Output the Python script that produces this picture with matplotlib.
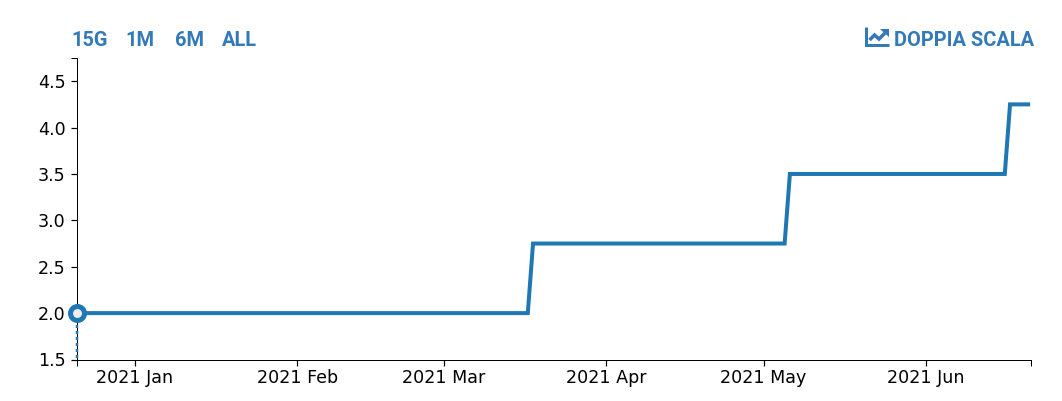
import matplotlib
matplotlib.use("Agg")
import matplotlib.pyplot as plt
import matplotlib.dates as mdates
from matplotlib.transforms import Affine2D
from matplotlib.lines import Line2D
from matplotlib.patches import Polygon
from matplotlib.ticker import FixedLocator, NullFormatter

dates = ["2020-12-21", "2021-03-17", "2021-03-18", "2021-05-05", "2021-05-06",
         "2021-06-16", "2021-06-17", "2021-06-20T20:00"]
values = [2.0, 2.0, 2.75, 2.75, 3.5, 3.5, 4.25, 4.25]
y_ticks = [1.5, 2.0, 2.5, 3.0, 3.5, 4.0, 4.5]
x_ticks = ["2021-01-01", "2021-02-01", "2021-03-01", "2021-04-01", "2021-05-01", "2021-06-01"]
x_labels = ["2021 Jan", "2021 Feb", "2021 Mar", "2021 Apr", "2021 May", "2021 Jun"]
range_buttons = ["15G", "1M", "6M", "ALL"]
scale_label = "DOPPIA SCALA"

W, H = 1062, 401
BLUE = "#1f77b4"
TEXT_BLUE = "#337ab7"
plt.rcParams["font.family"] = ["DejaVu Sans"]

px = lambda p: p * 0.72
to_num = mdates.datestr2num

fig = plt.figure(figsize=(W / 100, H / 100), dpi=100, facecolor="white")
L, R, T, B = 77.0, 1031.0, 58.0, 359.5
ax = fig.add_axes([L / W, 1 - B / H, (R - L) / W, (B - T) / H])

xs = [to_num(d) for d in dates]
ax.plot(xs, values, color=BLUE, lw=px(4), solid_joinstyle="miter", solid_capstyle="butt", zorder=3)
ax.plot([xs[0], xs[0]], [values[0], 1.5], color=BLUE, lw=px(2.5), ls=(0, (1.2, 1.2)),
        zorder=4, clip_on=False)
ax.plot([xs[0]], [values[0]], "o", ms=px(14), mfc="#eeeeee", mec=BLUE, mew=px(5),
        zorder=5, clip_on=False)

ax.set_xlim(to_num("2020-12-21"), to_num("2021-06-21"))
ax.set_ylim(1.5, 4.75)
for s in ("top", "right"):
    ax.spines[s].set_visible(False)
for s in ("left", "bottom"):
    ax.spines[s].set_linewidth(px(1))

ax.set_xticks([to_num(d) for d in x_ticks])
ax.set_xticklabels(x_labels)
ax.set_yticks(y_ticks)
ax.tick_params(axis="both", which="major", length=px(6), width=px(1.2), labelsize=px(17.5),
               color="black")
ax.tick_params(axis="x", which="major", pad=px(3.5))
ax.tick_params(axis="y", which="major", pad=px(5.5))
for lab in ax.get_xticklabels():
    lab.set_x(lab.get_position()[0])
ax.xaxis.set_minor_locator(FixedLocator(list(ax.get_xlim())))
ax.yaxis.set_minor_locator(FixedLocator([4.75]))
ax.xaxis.set_minor_formatter(NullFormatter())
ax.yaxis.set_minor_formatter(NullFormatter())
ax.tick_params(axis="both", which="minor", length=px(6), width=px(1), color="black")

pix = Affine2D().scale(1, -1).translate(0, H)
font = ["Roboto"]
for x, t in zip([71, 125, 175, 222], range_buttons):
    fig.text(x, 46, t, transform=pix, color=TEXT_BLUE, family=font, weight="bold",
             fontsize=px(20), ha="left", va="baseline")
fig.text(1034, 46, scale_label, transform=pix, color=TEXT_BLUE, family=font, weight="bold",
         fontsize=px(20), ha="right", va="baseline")

fig.add_artist(Line2D([865.5, 865.5, 889], [27, 44.5, 44.5], transform=pix, color=TEXT_BLUE,
                      lw=px(3), solid_joinstyle="miter", solid_capstyle="butt"))
fig.add_artist(Line2D([869.5, 874.5, 879, 885], [40, 35, 39, 33], transform=pix, color=TEXT_BLUE,
                      lw=px(3.5), solid_joinstyle="miter", solid_capstyle="butt"))
fig.add_artist(Polygon([[880, 28.5], [888.5, 28.5], [888.5, 37]], closed=True, transform=pix,
                       facecolor=TEXT_BLUE, edgecolor="none"))

fig.savefig("out.png", dpi=100)
